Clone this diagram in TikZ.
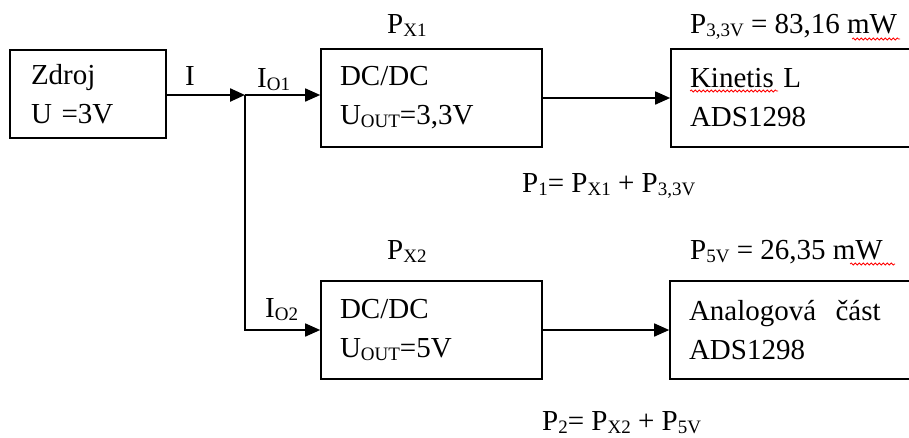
\documentclass[tikz,border=0pt]{standalone}
\usepackage{fontspec}
\setmainfont{Liberation Serif}
\usetikzlibrary{arrows.meta,decorations.pathmorphing}
\newcommand\sbs[1]{\raisebox{-3pt}{\fontsize{19}{19}\selectfont #1}}
\begin{document}
\begin{tikzpicture}[x=1pt,y=-1pt,
  box/.style={draw,line width=1.6pt,minimum height=98pt,align=left,inner xsep=19pt,inner ysep=0pt,font=\fontsize{29}{39}\selectfont},
  lbl/.style={anchor=base west,inner sep=0pt,font=\fontsize{29}{35}\selectfont},
  conn/.style={line width=1.6pt},
  arr/.style={conn,-{Triangle[length=15pt,width=13pt]}},
  wavy/.style={red,line width=0.8pt,decorate,decoration={snake,segment length=4pt,amplitude=1pt}}]
\useasboundingbox (0,0) rectangle (909,437);
\node[box,text width=114pt,inner xsep=21pt,minimum height=88pt] (zdroj) at (88,94) {Zdroj\\U =3V};
\node[box,text width=183pt] (dc1) at (431.5,98) {DC/DC\\U\sbs{OUT}=3,3V};
\node[box,text width=206pt] (kin) at (793,98) {Kinetis L\\ADS1298};
\node[box,text width=183pt] (dc2) at (431.5,330) {DC/DC\\U\sbs{OUT}=5V};
\node[box,text width=207pt] (ana) at (792.5,330) {Analogová~~část\\ADS1298};
\coordinate (j) at (245,95);
\draw[arr,line width=2.4pt] (zdroj.east |- j) -- (j);
\draw[arr] (j) -- (dc1.west |- j);
\draw[arr] (j) |- (dc2.west);
\draw[arr] (dc1.east) -- (kin.west);
\draw[arr] (dc2.east) -- (ana.west);
\node[lbl] (li) at (185,85) {I};
\node[lbl] (lio1) at (257,87) {I\sbs{O1}};
\node[lbl] (lpx1) at (387,33) {P\sbs{X1}};
\node[lbl] (lp33) at (690,33) {P\sbs{3,3V} = 83,16 mW};
\node[lbl] (lp1) at (522,192) {P\sbs{1}= P\sbs{X1} + P\sbs{3,3V}};
\node[lbl] (lpx2) at (387,259) {P\sbs{X2}};
\node[lbl] (lio2) at (265,317) {I\sbs{O2}};
\node[lbl] (lp5) at (690,259) {P\sbs{5V} = 26,35 mW};
\node[lbl] (lp2) at (542,430) {P\sbs{2}= P\sbs{X2} + P\sbs{5V}};
\draw[wavy] (690,91) -- (778,91);
\draw[wavy] (852,39) -- (900,39);
\draw[wavy] (850,264) -- (895,264);
\end{tikzpicture}
\end{document}
